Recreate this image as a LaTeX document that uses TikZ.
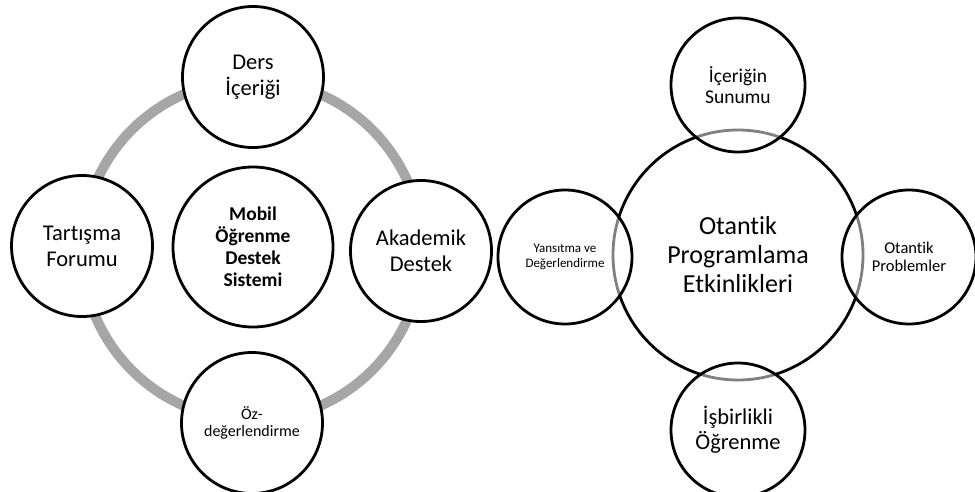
\documentclass[tikz,border=0pt]{standalone}
\usepackage{fontspec}
\setmainfont{Carlito}[Ligatures=NoCommon]
\newcommand\txtsize[2]{\fontsize{#1}{#2}\selectfont}
\begin{document}
\begin{tikzpicture}[x=1pt,y=-1pt,
    every node/.style={inner sep=0pt, align=center},
    ring/.style={draw=black!35, line width=10pt},
    sat/.style={circle, draw=black, line width=2.8pt, fill=white, minimum size=#1},
    sat/.default=141pt,
    seethru/.style={sat=134pt, fill opacity=0.5, text opacity=1, draw opacity=1}]
    \useasboundingbox (0,0) rectangle (975,491);
    \clip (0,0) rectangle (975,491);
    % left: mobile support system
    \draw[ring] (252,250) circle[radius=170];
    \node[sat=160pt, font=\txtsize{19.5}{22}\bfseries] (mobil) at (253,247) {Mobil\\Öğrenme\\Destek\\Sistemi};
    \node[sat, font=\txtsize{22.5}{26}] (ders) at (253,77) {Ders\\İçeriği};
    \node[sat, font=\txtsize{22.5}{26}] (forum) at (82,246) {Tartışma\\Forumu};
    \node[sat, font=\txtsize{22.5}{26}] (akademik) at (421,251) {Akademik\\Destek};
    \node[sat, font=\txtsize{16}{17}] (oz) at (252,423) {Öz-\\değerlendirme};
    % right: authentic programming activities
    \node[sat=250pt, font=\txtsize{26}{29}] (otantik) at (738,255) {Otantik\\Programlama\\Etkinlikleri};
    \node[seethru, font=\txtsize{19.5}{21}] (sunum) at (738,85) {İçeriğin\\Sunumu};
    \node[seethru, font=\txtsize{13}{15}] (yansitma) at (565,257) {Yansıtma ve\\Değerlendirme};
    \node[seethru, font=\txtsize{16.5}{18}] (problem) at (909,257) {Otantik\\Problemler};
    \node[seethru, font=\txtsize{22.5}{25}] (isbirligi) at (738,430) {İşbirlikli\\Öğrenme};
\end{tikzpicture}
\end{document}
